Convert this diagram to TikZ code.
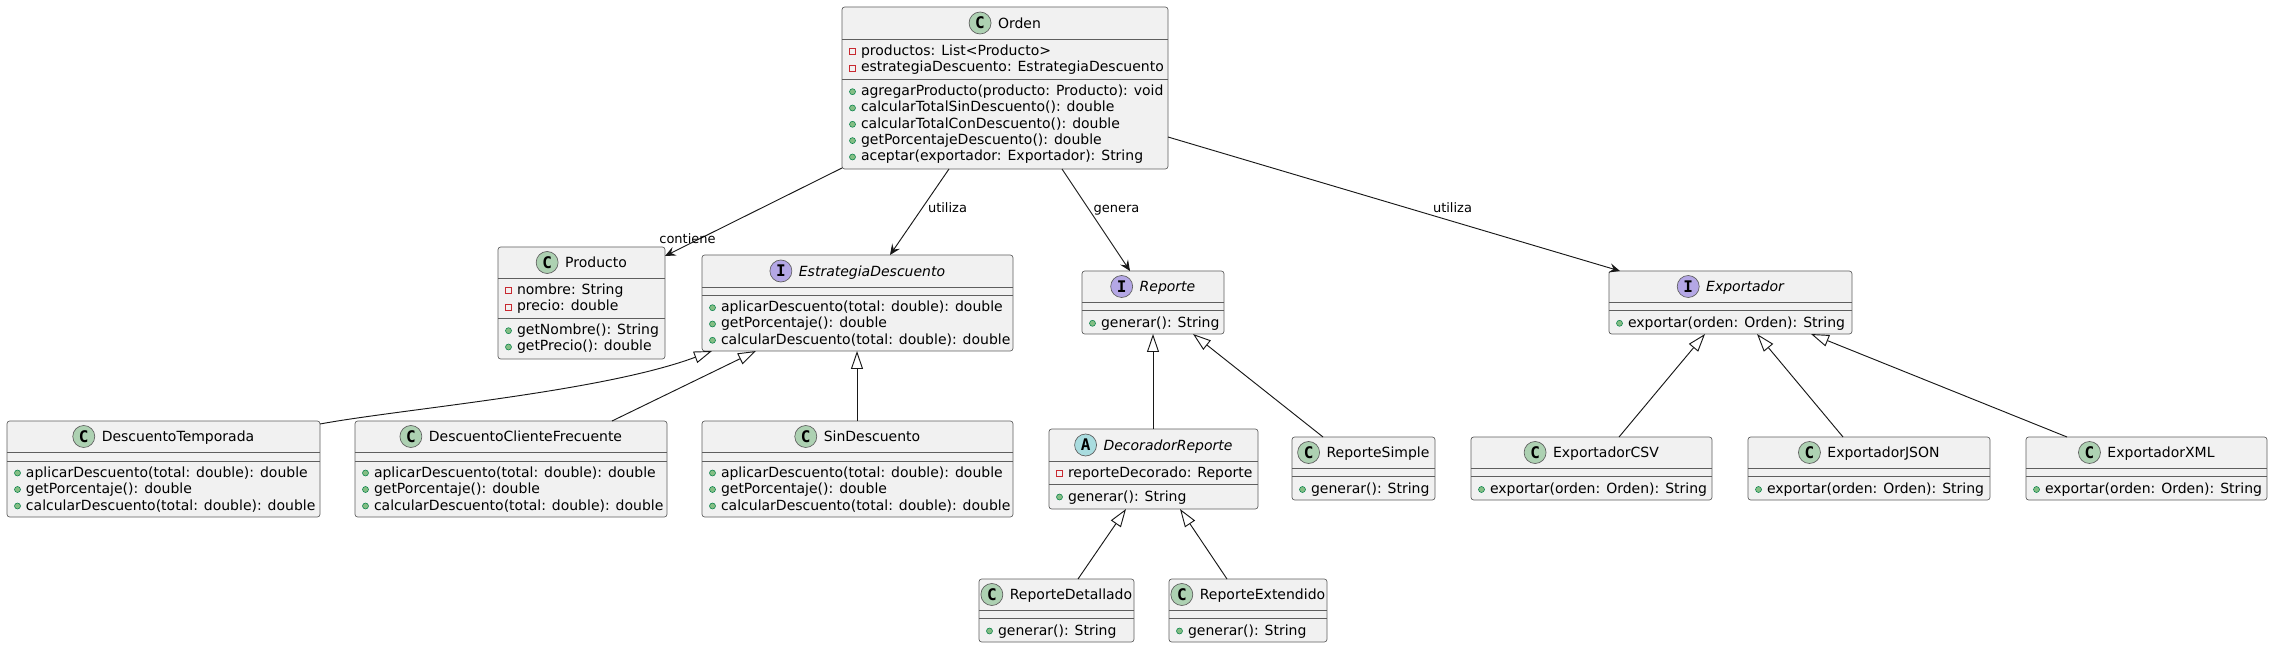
\documentclass[tikz,border=0pt]{standalone}
\usepackage{fontspec}
\setmainfont{DejaVu Sans}
\newfontfamily\letterfont{DejaVu Sans Mono}
\usetikzlibrary{arrows.meta,calc}
\definecolor{linecol}{HTML}{181818}
\definecolor{boxline}{HTML}{5E5E5E}
\definecolor{boxfill}{HTML}{F1F1F1}
\definecolor{cC}{HTML}{ADD1B2}
\definecolor{cI}{HTML}{B4A7E5}
\definecolor{cA}{HTML}{A9DCDF}
\definecolor{privcol}{HTML}{C82930}
\definecolor{pubfill}{HTML}{84BE84}
\definecolor{pubdraw}{HTML}{038048}
\tikzset{
 clsbox/.style={draw=boxline, fill=boxfill, line width=0.5pt, rounded corners=2pt, inner sep=0pt, outer sep=0pt},
 sepline/.style={draw=boxline, line width=0.5pt},
 memtxt/.style={anchor=base west, inner sep=0pt, outer sep=0pt, font=\fontsize{10.5pt}{12pt}\selectfont},
 ttl/.style={anchor=base, inner sep=0pt, outer sep=0pt, font=\fontsize{10.5pt}{12pt}\selectfont},
 ittl/.style={ttl, font=\fontsize{10.5pt}{12pt}\selectfont\itshape},
 circ/.style={circle, draw=boxline, line width=0.5pt, minimum size=16.5pt, inner sep=0pt, font=\letterfont\bfseries\fontsize{12pt}{12pt}\selectfont},
 pubicon/.style={circle, draw=pubdraw, fill=pubfill, line width=0.4pt, minimum size=4.5pt, inner sep=0pt},
 privicon/.style={rectangle, draw=privcol, line width=0.5pt, minimum size=4.5pt, inner sep=0pt},
 assoc/.style={draw=linecol, line width=0.7pt, -{Stealth[length=8pt, width=7pt, inset=3pt]}},
 inh/.style={draw=linecol, line width=0.7pt, -{Triangle[open, length=13.5pt, width=9pt, fill=white]}},
 lbl/.style={anchor=base, inner sep=0pt, font=\fontsize{9.75pt}{11pt}\selectfont},
}
\newcommand{\umlbox}[7]{%
  \node[clsbox, anchor=north west, minimum width={(#4-#2)*0.75pt}, minimum height={(#5-#3)*0.75pt}] (#1) at (#2,#3) {};
  \draw[sepline] (#2,#6) -- (#4,#6);
  \draw[sepline] (#2,#7) -- (#4,#7);}
\newcommand{\umltitle}[9]{%
  \node[#6] (#1-t) at ({(#2+#4)/2+14.5},{(#3+#5)/2+5.3}) {#9};
  \node[circ, fill=#7] (#1-c) at ($(#1-t.base west)+(-18,-5.3)$) {#8};}
\newcommand{\pubm}[4]{%
  \node[pubicon] (#1-i) at ({#2+10.5},{#3-4}) {};
  \node[memtxt] (#1) at ({#2+19},#3) {#4};}
\newcommand{\privm}[4]{%
  \node[privicon] (#1-i) at ({#2+10.5},{#3-4}) {};
  \node[memtxt] (#1) at ({#2+19},#3) {#4};}
\begin{document}
\begin{tikzpicture}[x=0.75pt, y=-0.75pt]
\fill[white] (0,0) rectangle (2269,648);
\useasboundingbox (0,0) rectangle (2269,648);

% Orden
\umlbox{orden}{842}{7}{1168}{169}{39}{79}
\umltitle{orden}{842}{7}{1168}{39}{ttl}{cC}{C}{Orden}
\privm{orden-a1}{842}{55.7}{productos: List<Producto>}
\privm{orden-a2}{842}{72}{estrategiaDescuento: EstrategiaDescuento}
\pubm{orden-m1}{842}{95.7}{agregarProducto(producto: Producto): void}
\pubm{orden-m2}{842}{112}{calcularTotalSinDescuento(): double}
\pubm{orden-m3}{842}{128.3}{calcularTotalConDescuento(): double}
\pubm{orden-m4}{842}{144.6}{getPorcentajeDescuento(): double}
\pubm{orden-m5}{842}{161}{aceptar(exportador: Exportador): String}

% Producto
\umlbox{producto}{498}{247}{665}{359}{278}{318}
\umltitle{producto}{498}{247}{665}{278}{ttl}{cC}{C}{Producto}
\privm{producto-a1}{498}{294.7}{nombre: String}
\privm{producto-a2}{498}{311}{precio: double}
\pubm{producto-m1}{498}{334.7}{getNombre(): String}
\pubm{producto-m2}{498}{351}{getPrecio(): double}

% EstrategiaDescuento
\umlbox{estrategia}{702}{255}{1013}{351}{287}{295}
\umltitle{estrategia}{702}{255}{1013}{287}{ittl}{cI}{I}{EstrategiaDescuento}
\pubm{estrategia-m1}{702}{311.7}{aplicarDescuento(total: double): double}
\pubm{estrategia-m2}{702}{328}{getPorcentaje(): double}
\pubm{estrategia-m3}{702}{344.3}{calcularDescuento(total: double): double}

% DescuentoTemporada
\umlbox{dtemp}{7}{421}{320}{517}{452}{461}
\umltitle{dtemp}{7}{421}{320}{452}{ttl}{cC}{C}{DescuentoTemporada}
\pubm{dtemp-m1}{7}{477}{aplicarDescuento(total: double): double}
\pubm{dtemp-m2}{7}{493.5}{getPorcentaje(): double}
\pubm{dtemp-m3}{7}{510}{calcularDescuento(total: double): double}

% DescuentoClienteFrecuente
\umlbox{dcf}{355}{421}{667}{517}{452}{461}
\umltitle{dcf}{355}{421}{667}{452}{ttl}{cC}{C}{DescuentoClienteFrecuente}
\pubm{dcf-m1}{355}{477}{aplicarDescuento(total: double): double}
\pubm{dcf-m2}{355}{493.5}{getPorcentaje(): double}
\pubm{dcf-m3}{355}{510}{calcularDescuento(total: double): double}

% SinDescuento
\umlbox{sind}{702}{421}{1013}{517}{452}{461}
\umltitle{sind}{702}{421}{1013}{452}{ttl}{cC}{C}{SinDescuento}
\pubm{sind-m1}{702}{477}{aplicarDescuento(total: double): double}
\pubm{sind-m2}{702}{493.5}{getPorcentaje(): double}
\pubm{sind-m3}{702}{510}{calcularDescuento(total: double): double}

% Reporte
\umlbox{reporte}{1082}{271}{1224}{334}{302}{310}
\umltitle{reporte}{1082}{271}{1224}{302}{ittl}{cI}{I}{Reporte}
\pubm{reporte-m1}{1082}{327.3}{generar(): String}

% DecoradorReporte
\umlbox{decorador}{1049}{429}{1258}{509}{461}{484}
\umltitle{decorador}{1049}{429}{1258}{461}{ittl}{cA}{A}{DecoradorReporte}
\privm{decorador-a1}{1049}{477}{reporteDecorado: Reporte}
\pubm{decorador-m1}{1049}{501}{generar(): String}

% ReporteSimple
\umlbox{rsimple}{1292}{437}{1435}{500}{468}{476}
\umltitle{rsimple}{1292}{437}{1435}{468}{ttl}{cC}{C}{ReporteSimple}
\pubm{rsimple-m1}{1292}{493.5}{generar(): String}

% ReporteDetallado
\umlbox{rdet}{979}{579}{1134}{642}{610}{618}
\umltitle{rdet}{979}{579}{1134}{610}{ttl}{cC}{C}{ReporteDetallado}
\pubm{rdet-m1}{979}{635}{generar(): String}

% ReporteExtendido
\umlbox{rext}{1169}{579}{1327}{642}{610}{618}
\umltitle{rext}{1169}{579}{1327}{610}{ttl}{cC}{C}{ReporteExtendido}
\pubm{rext-m1}{1169}{635}{generar(): String}

% Exportador
\umlbox{exportador}{1609}{271}{1852}{334}{302}{310}
\umltitle{exportador}{1609}{271}{1852}{302}{ittl}{cI}{I}{Exportador}
\pubm{exportador-m1}{1609}{327.3}{exportar(orden: Orden): String}

% ExportadorCSV
\umlbox{ecsv}{1471}{437}{1712}{500}{468}{476}
\umltitle{ecsv}{1471}{437}{1712}{468}{ttl}{cC}{C}{ExportadorCSV}
\pubm{ecsv-m1}{1471}{493.5}{exportar(orden: Orden): String}

% ExportadorJSON
\umlbox{ejson}{1748}{437}{1990}{500}{468}{476}
\umltitle{ejson}{1748}{437}{1990}{468}{ttl}{cC}{C}{ExportadorJSON}
\pubm{ejson-m1}{1748}{493.5}{exportar(orden: Orden): String}

% ExportadorXML
\umlbox{exml}{2026}{437}{2267}{500}{468}{476}
\umltitle{exml}{2026}{437}{2267}{468}{ttl}{cC}{C}{ExportadorXML}
\pubm{exml-m1}{2026}{493.5}{exportar(orden: Orden): String}

% associations
\draw[assoc] ($(orden.south west)+(0,-1)$) -- ($(producto.north east)+(0,9)$);
\draw[assoc] ($(orden.south west)+(107,0)$) -- ($(estrategia.north west)+(188,0)$);
\draw[assoc] ($(orden.south west)+(220,0)$) -- ($(reporte.north west)+(48,0)$);
\draw[assoc] ($(orden.south east)+(0,-32)$) -- ($(exportador.north west)+(11,0)$);
\node[lbl] (l-contiene) at (687.5,243.3) {contiene};
\node[lbl] (l-utiliza1) at (947.5,212.5) {utiliza};
\node[lbl] (l-genera) at (1116.5,212.5) {genera};
\node[lbl] (l-utiliza2) at (1452.5,212.5) {utiliza};

% inheritance
\draw[inh] ($(dtemp.north east)+(0,3)$) .. controls (401,409) and (602,392) .. ($(estrategia.south west)+(10,0)$);
\draw[inh] ($(dcf.north west)+(257,0)$) -- ($(estrategia.south west)+(54,0)$);
\draw[inh] ($(sind.north west)+(155,0)$) -- ($(estrategia.south west)+(155,0)$);
\draw[inh] ($(decorador.north west)+(104,0)$) -- ($(reporte.south west)+(71,0)$);
\draw[inh] ($(rsimple.north west)+(31,0)$) -- ($(reporte.south west)+(111,0)$);
\draw[inh] ($(rdet.north west)+(99,0)$) -- ($(decorador.south west)+(77,0)$);
\draw[inh] ($(rext.north west)+(58,0)$) -- ($(decorador.south west)+(131,0)$);
\draw[inh] ($(ecsv.north west)+(148,0)$) -- ($(exportador.south west)+(96,0)$);
\draw[inh] ($(ejson.north west)+(95,0)$) -- ($(exportador.south west)+(148,0)$);
\draw[inh] ($(exml.north west)+(41,0)$) -- ($(exportador.south west)+(202,0)$);
\end{tikzpicture}
\end{document}
